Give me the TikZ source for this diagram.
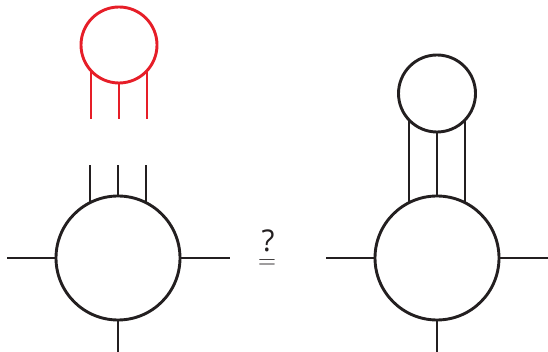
\documentclass[tikz,border=0pt]{standalone}
\usepackage{fontspec}
\setmainfont{Open Sans}
\definecolor{lnblack}{RGB}{35,31,32}
\definecolor{lnred}{RGB}{230,30,40}
\begin{document}
\begin{tikzpicture}[x=1pt,y=1pt,
  ln/.style={line width=2.9pt,draw=lnblack},
  rln/.style={line width=2.9pt,draw=lnred},
  bigc/.style={circle,ln,minimum size=124pt,inner sep=0pt,outer sep=0pt},
  smallc/.style={circle,ln,minimum size=77pt,inner sep=0pt,outer sep=0pt},
  redc/.style={circle,rln,minimum size=76pt,inner sep=0pt,outer sep=0pt},
  sym/.style={inner sep=0pt,anchor=base,text=lnblack}]
\useasboundingbox (0,0) rectangle (548,352);
% left diagram
\node[redc] (rc) at (119,307) {};
\coordinate (r1) at (91,233);
\coordinate (r2) at (119,233);
\coordinate (r3) at (147,233);
\draw[rln] (r1 |- rc.222.5) -- (r1);
\draw[rln] (rc.south) -- (r2);
\draw[rln] (r3 |- rc.317.5) -- (r3);
\node[bigc] (lc) at (118,94) {};
\coordinate (l1) at (90,187);
\coordinate (l2) at (118,187);
\coordinate (l3) at (146,187);
\draw[ln] (l1 |- lc.116.9) -- (l1);
\draw[ln] (lc.north) -- (l2);
\draw[ln] (l3 |- lc.63.1) -- (l3);
\coordinate (lw) at (7,94);
\coordinate (le) at (230,94);
\coordinate (ls) at (118,0);
\draw[ln] (lw) -- (lc.west);
\draw[ln] (lc.east) -- (le);
\draw[ln] (lc.south) -- (ls);
% middle
\node[sym,font=\fontsize{30}{30}\selectfont] (q) at (268,100) {?};
\node[sym,font=\fontsize{28}{28}\selectfont] (eq) at (267,83.5) {$=$};
% right diagram
\node[bigc] (rcb) at (437,94) {};
\node[smallc] (sc) at (437,258.5) {};
\coordinate (s1) at (409,0);
\coordinate (s3) at (465,0);
\draw[ln] (s1 |- sc.223.3) -- (s1 |- rcb.116.9);
\draw[ln] (sc.south) -- (rcb.north);
\draw[ln] (s3 |- sc.316.7) -- (s3 |- rcb.63.1);
\coordinate (rw) at (326,94);
\coordinate (re) at (548,94);
\coordinate (rs) at (437,0);
\draw[ln] (rw) -- (rcb.west);
\draw[ln] (rcb.east) -- (re);
\draw[ln] (rcb.south) -- (rs);
\end{tikzpicture}
\end{document}
